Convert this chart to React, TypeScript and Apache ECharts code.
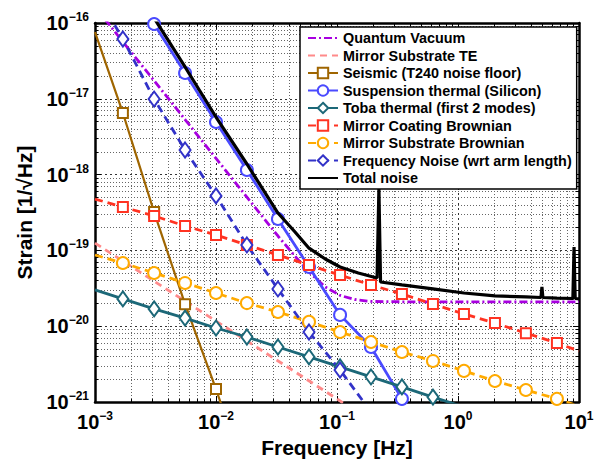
import React, { useEffect, useRef } from "react";
import * as echarts from "echarts";

const FONT = '"Liberation Sans", Arial, Helvetica, sans-serif';

// Frequencies (Hz) where markers are drawn
const markerFreq = [0.0017, 0.00308, 0.00555, 0.01, 0.018, 0.0325, 0.0587, 0.106, 0.191, 0.344, 0.621, 1.12, 2.02, 3.64, 6.57];

const xTickExps = [-3, -2, -1, 0, 1];
const yTickExps = [-21, -20, -19, -18, -17, -16];

// Quantum Vacuum
const quantumF = [0.001, 0.0017, 0.00308, 0.00555, 0.01, 0.018, 0.0325, 0.045, 0.0587, 0.08, 0.106, 0.14, 0.191, 0.344, 1, 10];
const quantumS = [1.64e-16, 5.66e-17, 1.73e-17, 5.33e-18, 1.64e-18, 5.05e-19, 1.55e-19, 8.37e-20, 5.19e-20, 3.3e-20, 2.55e-20, 2.25e-20, 2.12e-20, 2.1e-20, 2.09e-20, 2.09e-20];

// Mirror Substrate TE
const teF = [0.001, 0.01, 0.1, 0.2];
const teS = [1.25e-19, 1.17e-20, 1.1e-21, 5.1e-22];

// Seismic (T240 noise floor)
const seismicF = [0.001, 0.0017, 0.00308, 0.00555, 0.01, 0.012];
const seismicS = [7.6e-17, 6.5e-18, 3.2e-19, 1.95e-20, 1.48e-21, 6.3e-22];

// Suspension thermal (Silicon)
const suspF = [0.0017, 0.00308, 0.00555, 0.01, 0.018, 0.0325, 0.0587, 0.106, 0.191, 0.344, 0.621];
const suspS = [4.3e-16, 9.7e-17, 2.19e-17, 4.94e-18, 1.15e-18, 2.6e-19, 6.04e-20, 1.41e-20, 5.32e-21, 1.1e-21, 2.2e-22];

// Toba thermal (first 2 modes)
const tobaF = [0.001, 0.0017, 0.00308, 0.00555, 0.01, 0.018, 0.0325, 0.0587, 0.106, 0.191, 0.344, 0.621, 1.12];
const tobaS = [3.01e-20, 2.29e-20, 1.69e-20, 1.28e-20, 9.46e-21, 7.2e-21, 5.32e-21, 3.93e-21, 2.9e-21, 2.14e-21, 1.58e-21, 1.16e-21, 8.6e-22];

// Mirror Coating Brownian
const coatF = [0.001, 0.0017, 0.00308, 0.00555, 0.01, 0.018, 0.0325, 0.0587, 0.106, 0.191, 0.344, 0.621, 1.12, 2.02, 3.64, 6.57, 10];
const coatS = [4.76e-19, 3.74e-19, 2.85e-19, 2.1e-19, 1.6e-19, 1.18e-19, 8.7e-20, 6.41e-20, 4.73e-20, 3.5e-20, 2.66e-20, 1.96e-20, 1.45e-20, 1.1e-20, 8.1e-21, 6.0e-21, 4.71e-21];

// Mirror Substrate Brownian
const subF = [0.001, 0.0017, 0.00308, 0.00555, 0.01, 0.018, 0.0325, 0.0587, 0.106, 0.191, 0.344, 0.621, 1.12, 2.02, 3.64, 6.57, 10];
const subS = [8.69e-20, 6.82e-20, 5.04e-20, 3.72e-20, 2.74e-20, 2.02e-20, 1.54e-20, 1.14e-20, 8.38e-21, 6.19e-21, 4.57e-21, 3.48e-21, 2.57e-21, 1.89e-21, 1.44e-21, 1.1e-21, 8.85e-22];

// Frequency Noise (wrt arm length)
const freqF = [0.001, 0.0017, 0.00308, 0.00555, 0.01, 0.018, 0.0325, 0.0587, 0.106, 0.191];
const freqS = [2.6e-16, 6.15e-17, 9.93e-18, 2.11e-18, 5.23e-19, 1.18e-19, 3.1e-20, 8.38e-21, 2.64e-21, 7.4e-22];

// Total noise
const totalF = [0.0017, 0.00308, 0.00555, 0.01, 0.018, 0.0325, 0.045, 0.0587, 0.08, 0.106, 0.15, 0.2143, 0.222, 0.229, 0.344, 0.621, 1.12, 2.02, 3.64, 4.85, 4.94, 5.03, 6.57, 8.9, 9.1, 9.3, 10];
const totalS = [5.1e-16, 1.16e-16, 2.63e-17, 5.75e-18, 1.38e-18, 3.11e-19, 1.75e-19, 1.07e-19, 7.7e-20, 6.04e-20, 5.04e-20, 4.33e-20, 6.6e-19, 3.83e-20, 3.5e-20, 3.1e-20, 2.74e-20, 2.51e-20, 2.43e-20, 2.39e-20, 3.3e-20, 2.39e-20, 2.35e-20, 2.32e-20, 1.11e-19, 2.32e-20, 2.3e-20];

// ECharts rounds very small axis limits to 0, so strain is plotted in units of 1e-21
const Y_UNIT_EXP = -21;
const Y_UNIT = Math.pow(10, Y_UNIT_EXP);

const markerSet = new Set(markerFreq);
function pts(f: number[], s: number[], marked: boolean) {
  return f.map((x, i) => {
    const v = [x, s[i] / Y_UNIT];
    return marked && markerSet.has(x) ? v : { value: v, symbol: "none" };
  });
}

const labelRich = {
  b: { fontSize: 20, fontWeight: "bold", fontFamily: FONT, color: "#000" },
  s: { fontSize: 12, fontWeight: "bold", fontFamily: FONT, color: "#000", padding: [0, 0, 12, 0] },
};
function expText(e: number) {
  return "{b|10}{s|" + (e < 0 ? "\u2212" + -e : String(e)) + "}";
}
const xLabel = (v: number) => expText(Math.round(Math.log10(v)));
const yLabel = (v: number) => expText(Math.round(Math.log10(v)) + Y_UNIT_EXP);

export default function App() {
  const ref = useRef<HTMLDivElement>(null);
  useEffect(() => {
    if (!ref.current) return;
    const chart = echarts.init(ref.current, undefined, { renderer: "svg" });
    const xMin = Math.pow(10, xTickExps[0]);
    const xMax = Math.pow(10, xTickExps[xTickExps.length - 1]);
    const yMin = Math.pow(10, yTickExps[0] - Y_UNIT_EXP);
    const yMax = Math.pow(10, yTickExps[yTickExps.length - 1] - Y_UNIT_EXP);
    const majorGrid = { show: true, lineStyle: { color: "#333", type: [2, 3], width: 1 } };
    const minorGrid = { show: true, lineStyle: { color: "#666", type: [1, 2], width: 1 } };
    const frame = { show: true, lineStyle: { color: "#000", width: 2.5 } };
    const tick = { show: true, inside: true, length: 6, lineStyle: { color: "#000", width: 1 } };
    const minorTick = { show: true, splitNumber: 9, length: 3, lineStyle: { color: "#000", width: 1 } };

    const noSymbolNames = new Set<string>();
    const line = (name: string, f: number[], s: number[], color: string, opts: any) => {
      if (!opts.symbol) noSymbolNames.add(name);
      return {
        name,
        type: "line",
        data: pts(f, s, !!opts.symbol),
        symbol: opts.symbol || "none",
        symbolSize: opts.symbolSize || 10,
        showSymbol: true,
        color,
        lineStyle: { color, width: opts.width || 2.8, type: opts.dash || "solid" },
        itemStyle: { color, borderColor: color, borderWidth: 2.5 },
        z: opts.z || 2,
        clip: true,
      };
    };

    const series = [
      line("Quantum Vacuum", quantumF, quantumS, "#a800e0", { dash: [8, 3, 2, 3] }),
      line("Mirror Substrate TE", teF, teS, "#ff8a8a", { dash: [7, 5] }),
      line("Seismic (T240 noise floor)", seismicF, seismicS, "#9f6500", { symbol: "emptyRect", symbolSize: 10, width: 2.2 }),
      line("Suspension thermal (Silicon)", suspF, suspS, "#4a4aff", { symbol: "emptyCircle", symbolSize: 12 }),
      line("Toba thermal (first 2 modes)", tobaF, tobaS, "#1c6878", { symbol: "emptyDiamond", symbolSize: [11, 15] }),
      line("Mirror Coating Brownian", coatF, coatS, "#ff3322", { symbol: "emptyRect", symbolSize: 10, dash: [8, 5] }),
      line("Mirror Substrate Brownian", subF, subS, "#ffaa00", { symbol: "emptyCircle", symbolSize: 12, dash: [8, 5] }),
      line("Frequency Noise (wrt arm length)", freqF, freqS, "#3232c8", { symbol: "emptyDiamond", symbolSize: [11, 15], dash: [8, 5] }),
      line("Total noise", totalF, totalS, "#000000", { width: 3.2, z: 3 }),
    ];

    chart.setOption({
      animation: false,
      backgroundColor: "#fff",
      textStyle: { fontFamily: FONT },
      grid: { left: 95, right: 25, top: 23, bottom: 61, containLabel: false },
      legend: {
        left: 300,
        top: 27,
        orient: "vertical",
        backgroundColor: "#fff",
        borderColor: "#000",
        borderWidth: 1.5,
        borderRadius: 0,
        padding: [4, 5, 4, 7],
        itemWidth: 30,
        itemHeight: 13,
        itemGap: 3.5,
        textStyle: { fontSize: 14.4, fontWeight: "bold", color: "#000", fontFamily: FONT },
        data: series.map((s) =>
          noSymbolNames.has(s.name)
            ? { name: s.name, itemStyle: { color: "rgba(0,0,0,0)", borderColor: "rgba(0,0,0,0)", opacity: 0 } }
            : { name: s.name }
        ),
      },
      xAxis: [
        {
          type: "log",
          logBase: 10,
          min: xMin,
          max: xMax,
          splitNumber: 4,
          name: "Frequency [Hz]",
          nameLocation: "middle",
          nameGap: 34,
          nameTextStyle: { fontSize: 21, fontWeight: "bold", color: "#000", fontFamily: FONT },
          axisLine: frame,
          axisTick: tick,
          minorTick: minorTick,
          splitLine: majorGrid,
          minorSplitLine: minorGrid,
          axisLabel: { formatter: xLabel, rich: labelRich, margin: 8, showMinLabel: true, showMaxLabel: true },
        },
        {
          type: "log",
          logBase: 10,
          min: xMin,
          max: xMax,
          splitNumber: 4,
          position: "top",
          axisLine: frame,
          axisTick: tick,
          minorTick: minorTick,
          splitLine: { show: false },
          axisLabel: { show: false },
        },
      ],
      yAxis: [
        {
          type: "log",
          logBase: 10,
          min: yMin,
          max: yMax,
          splitNumber: 5,
          name: "Strain [1/\u221AHz]",
          nameLocation: "middle",
          nameGap: 59,
          nameTextStyle: { fontSize: 21, fontWeight: "bold", color: "#000", fontFamily: FONT },
          axisLine: frame,
          axisTick: tick,
          minorTick: minorTick,
          splitLine: majorGrid,
          minorSplitLine: minorGrid,
          axisLabel: { formatter: yLabel, rich: labelRich, margin: 6, showMinLabel: true, showMaxLabel: true },
        },
        {
          type: "log",
          logBase: 10,
          min: yMin,
          max: yMax,
          splitNumber: 5,
          position: "right",
          axisLine: frame,
          axisTick: tick,
          minorTick: minorTick,
          splitLine: { show: false },
          axisLabel: { show: false },
        },
      ],
      series,
    });
    return () => chart.dispose();
  }, []);
  return <div ref={ref} style={{ width: 604, height: 463, position: "absolute", left: 0, top: 0 }} />;
}
